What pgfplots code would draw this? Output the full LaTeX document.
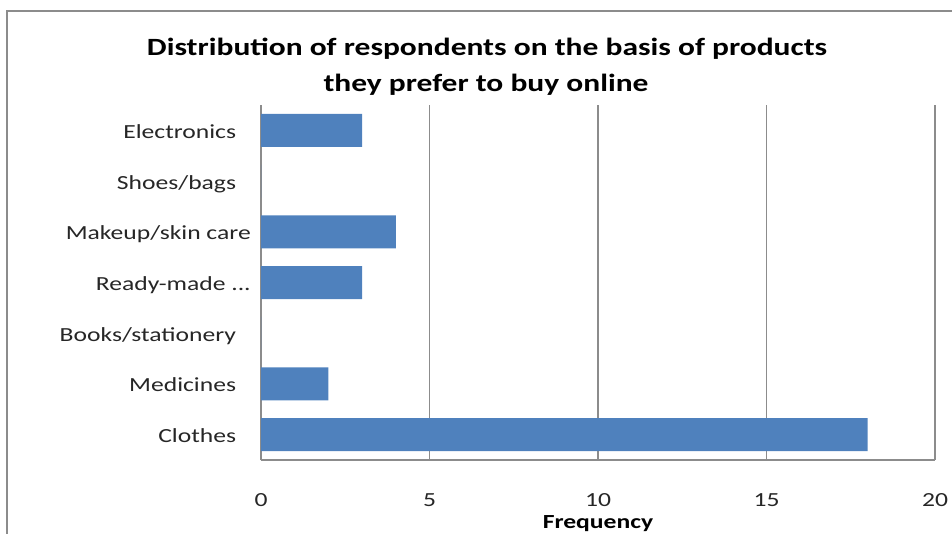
\documentclass[border=0pt]{standalone}
\usepackage{pgfplots}
\pgfplotsset{compat=1.18}
\usepackage{graphicx}
\usepackage{fontspec}
\setmainfont{Carlito}
\definecolor{barblue}{HTML}{4F81BD}
\definecolor{gridgray}{HTML}{8C8C8C}
\newcommand{\sx}[1]{\scalebox{1.28}[1]{#1}}
\newcommand{\tx}[1]{\scalebox{1.27}[1]{#1}}
\begin{document}
\begin{tikzpicture}[x=0.75pt,y=0.75pt]
\useasboundingbox (0,0) rectangle (952,533);
\coordinate (A) at (261,73);
\draw[gridgray, line width=1pt] (7,-10) -- (7,522) -- (970,522);
\node[anchor=base, font=\fontsize{18.6}{20}\selectfont\bfseries] at (487,477) {\tx{Distribution of respondents on the basis of products}};
\node[anchor=base, font=\fontsize{18.6}{20}\selectfont\bfseries] at (486,441) {\tx{they prefer to buy online}};
\begin{axis}[
  at={(A)}, anchor=south west,
  scale only axis, width=505.5pt, height=266.25pt,
  xmin=0, xmax=20, ymin=-0.5, ymax=6.5,
  xbar, bar width=24.75pt,
  axis lines*=left,
  axis line style={gridgray, line width=0.8pt},
  xmajorgrids, grid style={gridgray, line width=0.8pt},
  major tick length=0pt,
  xtick={0,5,10,15,20},
  xticklabels={\sx{0},\sx{5},\sx{10},\sx{15},\sx{20}},
  xticklabel style={anchor=base, yshift=-35pt, inner sep=0pt, font=\fontsize{15}{17}\selectfont, text=black!85},
  ytick={0,1,2,3,4,5,6},
  yticklabels={{\sx{Clothes}\kern11pt},{\sx{Medicines}\kern11pt},{\sx{Books/stationery}\kern11pt},{\sx{Ready-made ...}},{\sx{Makeup/skin care}},{\sx{Shoes/bags}\kern11pt},{\sx{Electronics}\kern11pt}},
  yticklabel style={anchor=base east, inner sep=0pt, xshift=-7.5pt, yshift=-6pt, font=\fontsize{15}{17}\selectfont, text=black!85},
  xlabel={\sx{Frequency}},
  xlabel style={at={(axis description cs:0.5,0)}, anchor=base, yshift=-51pt, inner sep=0pt, font=\fontsize{15}{17}\selectfont\bfseries},
  clip=false,
]
\addplot[fill=barblue, draw=none] coordinates {(18,0) (2,1) (0,2) (3,3) (4,4) (0,5) (3,6)};
\end{axis}
\end{tikzpicture}
\end{document}
